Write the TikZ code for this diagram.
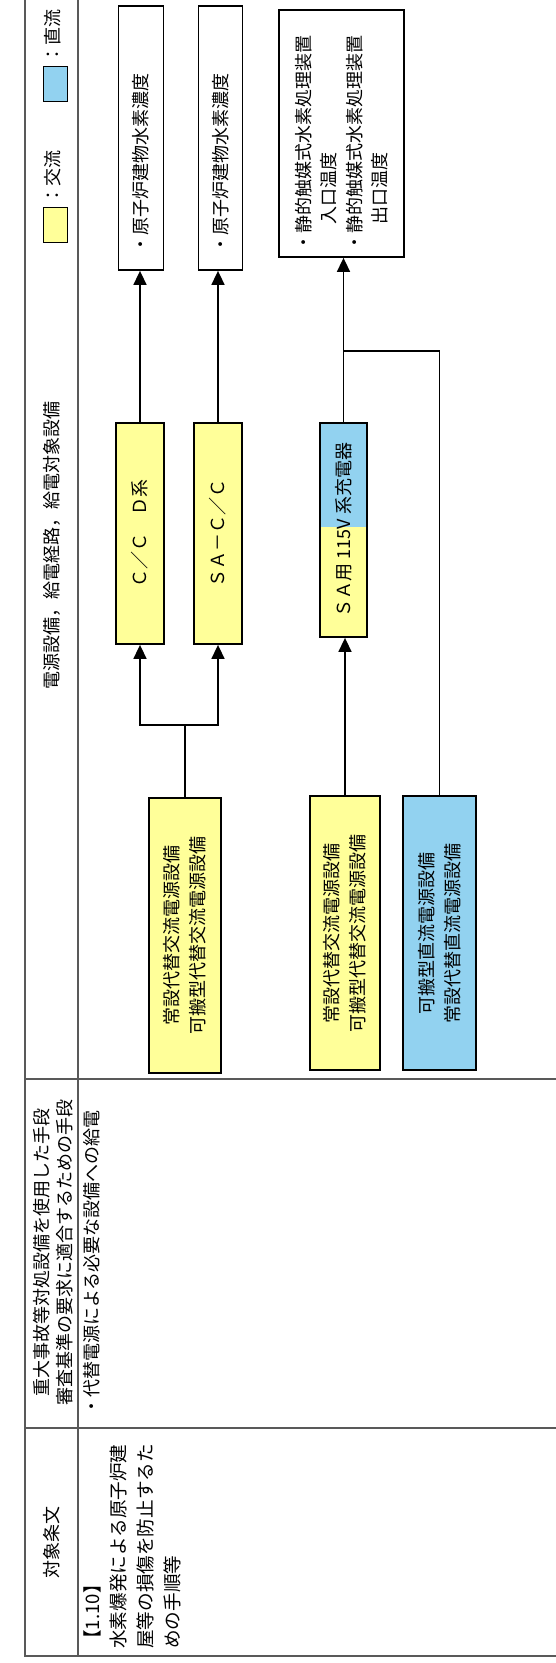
\documentclass[tikz,border=0pt]{standalone}
\usepackage{fontspec}
\setmainfont{Noto Sans CJK JP}
\usetikzlibrary{arrows.meta,calc,backgrounds}
\definecolor{acyellow}{RGB}{255,255,153}
\definecolor{dcblue}{RGB}{146,210,240}
\begin{document}
\begin{tikzpicture}[x=0.5pt,y=-0.5pt,font=\fontsize{9}{13}\selectfont,
  rec/.style={draw,rotate=90,line width=0.9pt},
  acrec/.style={rec,fill=acyellow,align=center},
  dcrec/.style={rec,fill=dcblue,align=center},
  lbl/.style={rotate=90,inner sep=0pt},
  feed/.style={line width=0.8pt,-{Triangle[length=7pt,width=6.5pt]}},
  wire/.style={line width=0.8pt},
  rule/.style={draw=black!65,line width=0.7pt}]
\useasboundingbox (0,0) rectangle (556,1663);
% table frame
\draw[rule] (25,-20) -- (25,1656) -- (556,1656);
\draw[rule] (78,-20) -- (78,1656);
\draw[rule] (25,1079) -- (556,1079);
\draw[rule] (25,1428) -- (556,1428);
% header row
\node[lbl] (hpow) at (52,545) {電源設備，給電経路，給電対象設備};
\node[lbl,align=center,font=\fontsize{9}{11.5}\selectfont] (hmeans) at (53.5,1252) {重大事故等対処設備を使用した手段\\審査基準の要求に適合するための手段};
\node[lbl] (hart) at (52,1542) {対象条文};
% legend
\node[draw,fill=acyellow,minimum width=12pt,minimum height=17.5pt,inner sep=0pt] (keyac) at (55,224.5) {};
\node[lbl,anchor=west] (keyactxt) at (53,205) {：交流};
\node[draw,fill=dcblue,minimum width=12pt,minimum height=17.5pt,inner sep=0pt] (keydc) at (55,84) {};
\node[lbl,anchor=west] (keydctxt) at (53,64) {：直流};
% body texts
\node[lbl,anchor=west] (means) at (92,1416) {・代替電源による必要な設備への給電};
\node[lbl,anchor=west,align=left,font=\fontsize{9.3}{13.3}\selectfont] (art) at (132,1649) {【1.10】\\水素爆発による原子炉建\\屋等の損傷を防止するた\\めの手順等};
% loads
\node[rec,align=left,text width=116pt,inner xsep=8pt,minimum height=22.5pt] (h2a) at (141,138) {・原子炉建物水素濃度};
\node[rec,align=left,text width=116pt,inner xsep=8pt,minimum height=22pt] (h2b) at (220.5,138) {・原子炉建物水素濃度};
\node[rec,align=left,text width=118.5pt,inner xsep=2.5pt,minimum height=62.5pt,font=\fontsize{9}{12.7}\selectfont] (pars) at (341.5,133.5) {・静的触媒式水素処理装置\\\hspace*{1.5em}入口温度\\・静的触媒式水素処理装置\\\hspace*{1.5em}出口温度};
% buses
\node[acrec,minimum width=110.5pt,minimum height=24pt] (ccd) at (140,533.5) {Ｃ／Ｃ　Ｄ系};
\node[acrec,minimum width=110.5pt,minimum height=24pt] (sacc) at (218,533.5) {ＳＡ－Ｃ／Ｃ};
\node[rec,minimum width=107pt,minimum height=23.5pt] (chg) at (343.5,530) {ＳＡ用 115V 系充電器};
\begin{scope}[on background layer]
\fill[acyellow] (chg.north west) rectangle (chg.south east);
\fill[dcblue] (chg.north east) rectangle ($(chg.south east)!0.486!(chg.south west)$);
\end{scope}
% sources
\node[acrec,minimum width=137.5pt,minimum height=36pt] (srcac1) at (185,935.5) {常設代替交流電源設備\\可搬型代替交流電源設備};
\node[acrec,minimum width=137pt,minimum height=35pt] (srcac2) at (345,933) {常設代替交流電源設備\\可搬型代替交流電源設備};
\node[dcrec,minimum width=137pt,minimum height=36.5pt] (srcdc) at (439.5,933) {可搬型直流電源設備\\常設代替直流電源設備};
% feeds
\coordinate (split) at (185,725);
\draw[wire] (srcac1.east) -- (split);
\draw[feed] (split) -| (ccd.west);
\draw[feed] (split) -| (sacc.west);
\draw[feed] (ccd.east) -- (ccd.east |- h2a.west);
\draw[feed] (sacc.east) -- (sacc.east |- h2b.west);
\draw[feed] (srcac2.east) -- (srcac2.east |- chg.west);
\draw[feed] (chg.east) -- (chg.east |- pars.west);
\coordinate (tee) at (343.5,351);
\draw[wire] (srcdc.east) |- (tee);
\end{tikzpicture}
\end{document}
